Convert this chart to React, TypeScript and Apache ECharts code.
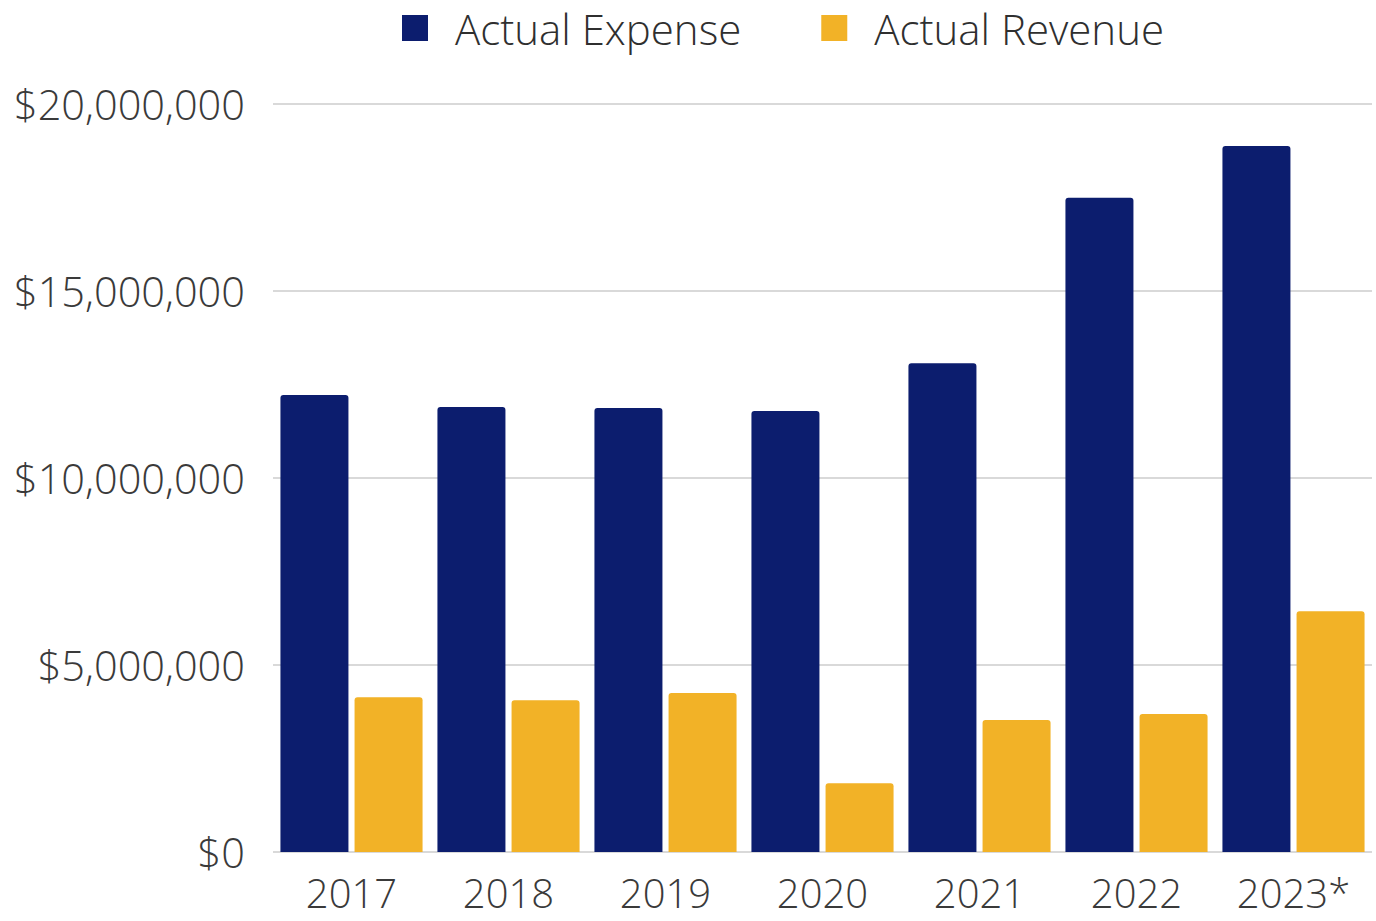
import React, { useEffect, useRef } from "react";
import * as echarts from "echarts";

const years = ["2017", "2018", "2019", "2020", "2021", "2022", "2023*"];
const actualExpense = [12220000, 11900000, 11870000, 11790000, 13070000, 17490000, 18880000];
const actualRevenue = [4140000, 4060000, 4250000, 1840000, 3530000, 3690000, 6440000];
const seriesNames = ["Actual Expense", "Actual Revenue"];

const fmt = (v: number) => "$" + v.toLocaleString("en-US");

export default function App() {
  const ref = useRef<HTMLDivElement>(null);
  useEffect(() => {
    document.body.style.margin = "0";
    const chart = echarts.init(ref.current!, null, { renderer: "svg" });
    const font = "'Open Sans', 'Noto Sans', sans-serif";
    chart.setOption({
      animation: false,
      backgroundColor: "#ffffff",
      legend: {
        left: 397,
        top: 2,
        itemWidth: 26,
        itemHeight: 26,
        itemGap: 80,
        icon: "rect",
        data: seriesNames,
        textStyle: {
          fontFamily: font,
          fontWeight: 300,
          fontSize: 42,
          color: "#2f2f2f",
          padding: [0, 0, 0, 22],
        },
      },
      grid: { left: 273, right: 4, top: 104, bottom: 69 },
      xAxis: {
        type: "category",
        data: years,
        axisLine: { show: false },
        axisTick: { show: false },
        axisLabel: {
          fontFamily: font,
          fontWeight: 300,
          fontSize: 40,
          lineHeight: 40,
          color: "#3a3a3a",
          margin: 20,
        },
      },
      yAxis: {
        type: "value",
        min: 0,
        max: 20000000,
        interval: 5000000,
        axisLine: { show: false },
        axisTick: { show: false },
        splitLine: { lineStyle: { color: "#cccccc", width: 1.5 } },
        axisLabel: {
          formatter: (v: number) => fmt(v),
          fontFamily: font,
          fontWeight: 300,
          fontSize: 41.5,
          color: "#3a3a3a",
          margin: 28,
        },
      },
      series: [
        {
          name: seriesNames[0],
          type: "bar",
          data: actualExpense,
          barWidth: 68,
          barGap: "9%",
          itemStyle: { color: "#0c1d6e", borderRadius: [3, 3, 0, 0] },
        },
        {
          name: seriesNames[1],
          type: "bar",
          data: actualRevenue,
          barWidth: 68,
          barGap: "9%",
          itemStyle: { color: "#f2b227", borderRadius: [3, 3, 0, 0] },
        },
      ],
    });
    return () => chart.dispose();
  }, []);
  return <div ref={ref} style={{ width: 1376, height: 921 }} />;
}
